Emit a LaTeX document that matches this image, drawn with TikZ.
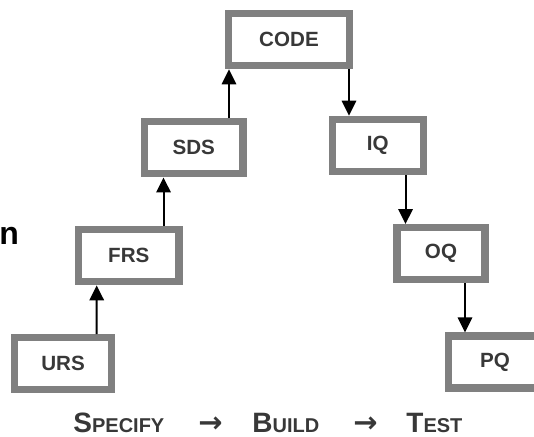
\documentclass[tikz,border=0pt]{standalone}
\usepackage{fontspec}
\setmainfont{Liberation Sans}
\newfontfamily\arrowfont{DejaVu Sans}
\usepackage{tikz}
\usetikzlibrary{arrows.meta}
\definecolor{boxgray}{RGB}{128,128,128}
\definecolor{labelgray}{RGB}{56,56,56}
\newcommand{\smallcapsWord}[2]{{\fontsize{14}{16}\selectfont #1}{\fontsize{10}{12}\selectfont #2}}

\begin{document}
\begin{tikzpicture}[x=0.5pt,y=-0.5pt,
  phase/.style={draw=boxgray,line width=3.65pt,fill=white,rectangle,inner sep=0pt,
    minimum height=26pt,font=\fontsize{10.3}{12}\selectfont\bfseries,text=labelgray},
  flow/.style={-{Triangle[width=7.2pt,length=7.5pt]},line width=1pt,black}]

  \useasboundingbox (0,0) rectangle (534,437);

  % specify side
  \node [phase,minimum width=48.35pt] (urs)  at ( 63.0,363.8) {URS};
  \node [phase,minimum width=50.2pt]  (frs)  at (128.8,255.7) {FRS};
  \node [phase,minimum width=49.1pt]  (sds)  at (193.8,147.8) {SDS};

  % build
  \node [phase,minimum width=60.35pt] (code) at (289.0, 39.7) {CODE};

  % test side
  \node [phase,minimum width=45.6pt]  (iq)   at (377.8,145.4) {IQ};
  \node [phase,minimum width=44.05pt] (oq)   at (441.0,253.7) {OQ};
  \node [phase,minimum width=46.35pt] (pq)   at (495.0,362.0) {PQ};

  \path [flow] ([xshift=16.85pt]urs.north) edge ([xshift=-16.05pt]frs.south);
  \path [flow] ([xshift=17.35pt]frs.north) edge ([xshift=-15.15pt]sds.south);
  \path [flow] ([xshift=17.6pt]sds.north)  edge ([xshift=-30pt]code.south);
  \path [flow] ([xshift=30pt]code.south)   edge ([xshift=-14.4pt]iq.north);
  \path [flow] ([xshift=13.85pt]iq.south)  edge ([xshift=-17.75pt]oq.north);
  \path [flow] ([xshift=12pt]oq.south)     edge ([xshift=-15pt]pq.north);

  \node [anchor=base west,inner sep=0pt,font=\fontsize{16}{18}\selectfont\bfseries] (cut) at (-1,245) {n};

  % bottom line
  \begin{scope}[every node/.style={anchor=base west,inner sep=0pt,text=labelgray,font=\bfseries}]
  \node (specify) at (73,432) {\smallcapsWord{S}{PECIFY}};
  \node (to1)     at (198,432) {\fontsize{14.5}{16}\selectfont\arrowfont\bfseries →};
  \node (build)   at (252,432) {\smallcapsWord{B}{UILD}};
  \node (to2)     at (353,432) {\fontsize{14.5}{16}\selectfont\arrowfont\bfseries →};
  \node (test)    at (406,432) {\smallcapsWord{T}{EST}};
  \end{scope}

\end{tikzpicture}
\end{document}
